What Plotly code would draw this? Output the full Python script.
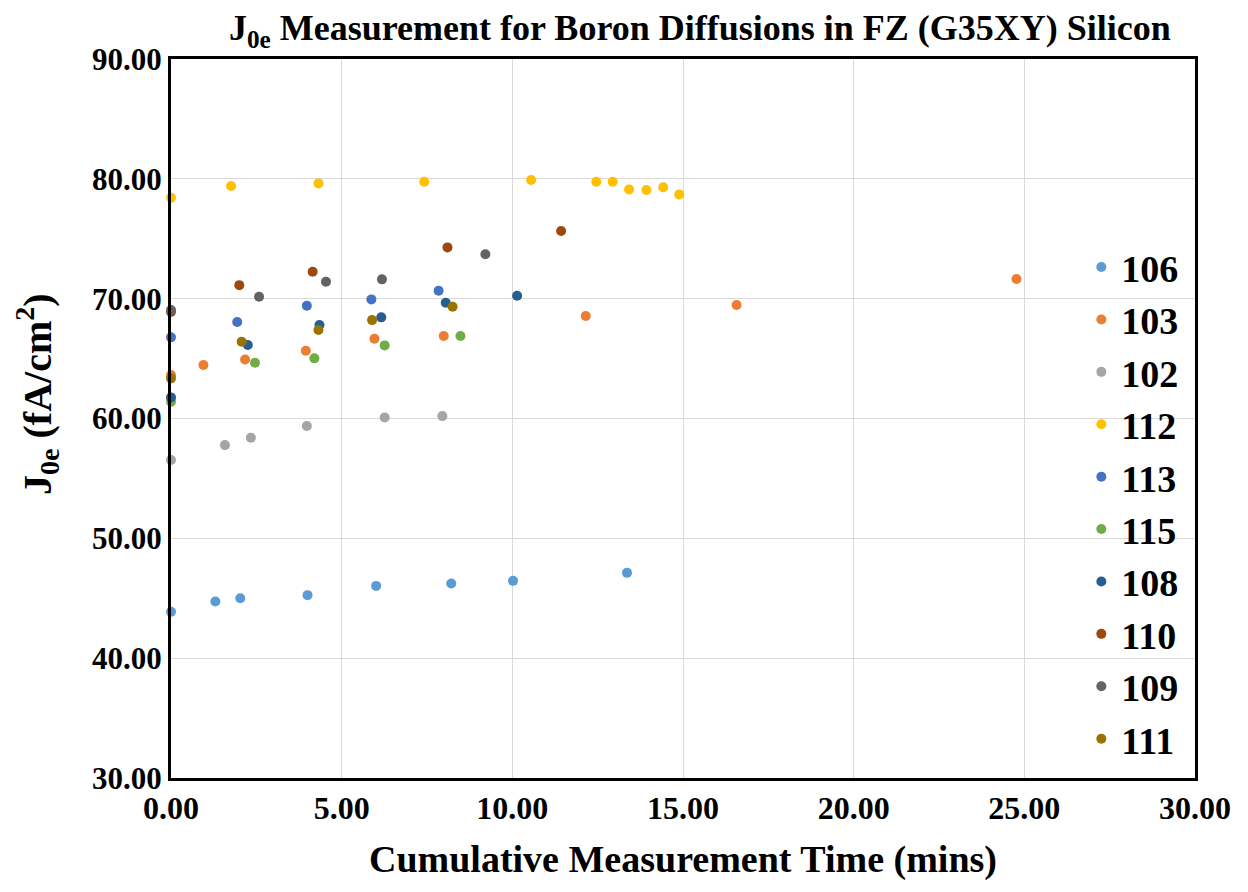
import plotly.graph_objects as go

names = ["106", "103", "102", "112", "113", "115", "108", "110", "109", "111"]
colors = ["#5B9BD5", "#ED7D31", "#A5A5A5", "#FFC000", "#4472C4",
          "#70AD47", "#255E91", "#9E480E", "#636363", "#997300"]

x106 = [0.0, 1.30, 2.03, 4.00, 6.01, 8.21, 10.02, 13.36]
y106 = [43.87, 44.73, 45.00, 45.26, 46.03, 46.23, 46.45, 47.12]

x103 = [0.0, 0.95, 2.17, 3.95, 5.96, 7.99, 12.15, 16.57, 24.77]
y103 = [63.62, 64.46, 64.93, 65.65, 66.65, 66.88, 68.55, 69.47, 71.64]

x102 = [0.0, 1.58, 2.34, 3.98, 6.26, 7.95]
y102 = [56.53, 57.78, 58.39, 59.37, 60.09, 60.20]

x112 = [0.0, 1.76, 4.32, 7.42, 10.55, 12.46, 12.94, 13.42, 13.93, 14.42, 14.89]
y112 = [78.42, 79.40, 79.62, 79.76, 79.90, 79.76, 79.76, 79.12, 79.07, 79.29, 78.70]

x113 = [0.0, 1.94, 3.98, 5.87, 7.84]
y113 = [66.77, 68.05, 69.41, 69.94, 70.66]

x115 = [0.0, 2.46, 4.20, 6.26, 8.48]
y115 = [61.40, 64.65, 65.02, 66.10, 66.88]

x108 = [0.0, 2.25, 4.35, 6.16, 8.05, 10.14]
y108 = [61.76, 66.13, 67.80, 68.44, 69.66, 70.24]

x110 = [0.0, 2.00, 4.15, 8.10, 11.43]
y110 = [68.90, 71.13, 72.25, 74.28, 75.64]

x109 = [0.0, 2.58, 4.54, 6.18, 9.21]
y109 = [69.05, 70.16, 71.41, 71.61, 73.70]

x111 = [0.0, 2.07, 4.32, 5.89, 8.25]
y111 = [63.35, 66.40, 67.38, 68.21, 69.32]

xs = [x106, x103, x102, x112, x113, x115, x108, x110, x109, x111]
ys = [y106, y103, y102, y112, y113, y115, y108, y110, y109, y111]

FONT = "Liberation Serif, Times New Roman, serif"

fig = go.Figure()
for n, c, xv, yv in zip(names, colors, xs, ys):
    fig.add_trace(go.Scatter(
        x=xv, y=yv, mode="markers", name=n,
        marker=dict(color=c, size=10),
        cliponaxis=False,
    ))

fig.update_layout(
    width=1240, height=884,
    paper_bgcolor="white", plot_bgcolor="white",
    margin=dict(l=163, r=53, t=51, b=114),
    font=dict(family=FONT, color="black", weight="bold"),
    title=dict(
        text="J<sub>0e</sub> Measurement for Boron Diffusions in FZ (G35XY) Silicon",
        x=0.558, xanchor="center", y=0.978, yanchor="middle",
        font=dict(family=FONT, size=36, color="black", weight="bold"),
    ),
    legend=dict(
        x=0.889, xanchor="left", y=0.754, yanchor="top",
        bgcolor="rgba(0,0,0,0)",
        font=dict(family=FONT, size=38, color="black", weight="bold"),
        itemsizing="trace",
    ),
    showlegend=True,
    annotations=[dict(
        text="J<sub>0e</sub> (fA/cm<sup>2</sup>)",
        xref="paper", yref="paper", x=-0.131, y=0.534,
        xanchor="center", yanchor="middle", textangle=-90,
        showarrow=False,
        font=dict(family=FONT, size=40, color="black", weight="bold"),
    )],
)

fig.update_xaxes(
    range=[0, 30], dtick=5, tick0=0, tickformat=".2f",
    showgrid=True, gridcolor="#D9D9D9", gridwidth=1,
    showline=True, linecolor="black", linewidth=3, mirror=True,
    zeroline=False, ticks="",
    tickfont=dict(family=FONT, size=32, color="black", weight="bold"),
    title=dict(text="Cumulative Measurement Time (mins)",
               font=dict(family=FONT, size=38, color="black", weight="bold"),
               standoff=20),
)
fig.update_yaxes(
    range=[30, 90], dtick=10, tick0=30, tickformat=".2f",
    showgrid=True, gridcolor="#D9D9D9", gridwidth=1,
    showline=True, linecolor="black", linewidth=3, mirror=True,
    zeroline=False, ticks="",
    tickfont=dict(family=FONT, size=31, color="black", weight="bold"),
)

fig.write_html("out.html")
